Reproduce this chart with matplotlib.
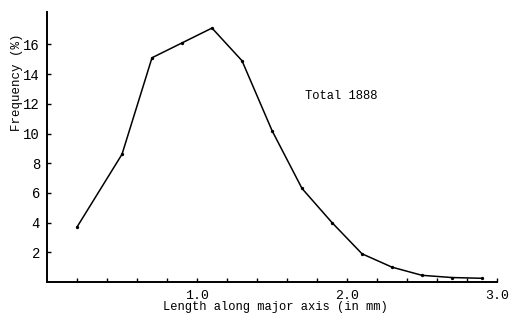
import matplotlib
matplotlib.use("Agg")
import matplotlib.pyplot as plt

# Length classes (mm) and frequency (%)
length_mm = [0.2, 0.5, 0.7, 0.9, 1.1, 1.3, 1.5, 1.7, 1.9, 2.1, 2.3, 2.5, 2.7, 2.9]
frequency_pct = [3.7, 8.6, 15.1, 16.1, 17.1, 14.9, 10.2, 6.3, 4.0, 1.9, 1.0, 0.45, 0.3, 0.25]

y_ticks = [2, 4, 6, 8, 10, 12, 14, 16]
x_major = [1.0, 2.0, 3.0]
x_major_labels = ["1.0", "2.0", "3.0"]
x_minor = [0.2, 0.4, 0.6, 0.8, 1.2, 1.4, 1.6, 1.8, 2.2, 2.4, 2.6, 2.8]

FONT = "Liberation Mono"

fig = plt.figure(figsize=(5.24, 3.24), dpi=100)
W, H = 524, 324
x0, x1 = 47, 497
y0, y1 = 282, 12
ax = fig.add_axes([x0 / W, (H - y0) / H, (x1 - x0) / W, (y0 - y1) / H])

ax.plot(length_mm, frequency_pct, color="black", lw=1.1,
        marker="o", markersize=2.4, markerfacecolor="black", markeredgewidth=0)

ax.set_xlim(0, 3.0)
ax.set_ylim(0, (y0 - y1) / 14.85)

for s in ("top", "right"):
    ax.spines[s].set_visible(False)
for s in ("left", "bottom"):
    ax.spines[s].set_linewidth(1.4)
    ax.spines[s].set_color("black")

ax.set_yticks(y_ticks)
ax.set_yticklabels([str(v) for v in y_ticks], fontfamily=FONT, fontsize=10)
ax.set_xticks(x_major)
ax.set_xticklabels(x_major_labels, fontfamily=FONT, fontsize=9.5)
ax.set_xticks(x_minor, minor=True)
ax.tick_params(axis="both", which="both", direction="in", length=3, width=1, color="black")
ax.tick_params(axis="y", pad=5)
ax.tick_params(axis="x", pad=6)

fig.text(275 / W, 1 - 307 / H, "Length along major axis (in mm)",
         fontfamily=FONT, fontsize=8.7, ha="center", va="center")
fig.text(17 / W, 1 - 82 / H, "Frequency (%)", rotation=90,
         fontfamily=FONT, fontsize=9, ha="center", va="center")
fig.text(305 / W, 1 - 96 / H, "Total 1888",
         fontfamily=FONT, fontsize=8.7, ha="left", va="center")

fig.savefig("out.png", dpi=100)
